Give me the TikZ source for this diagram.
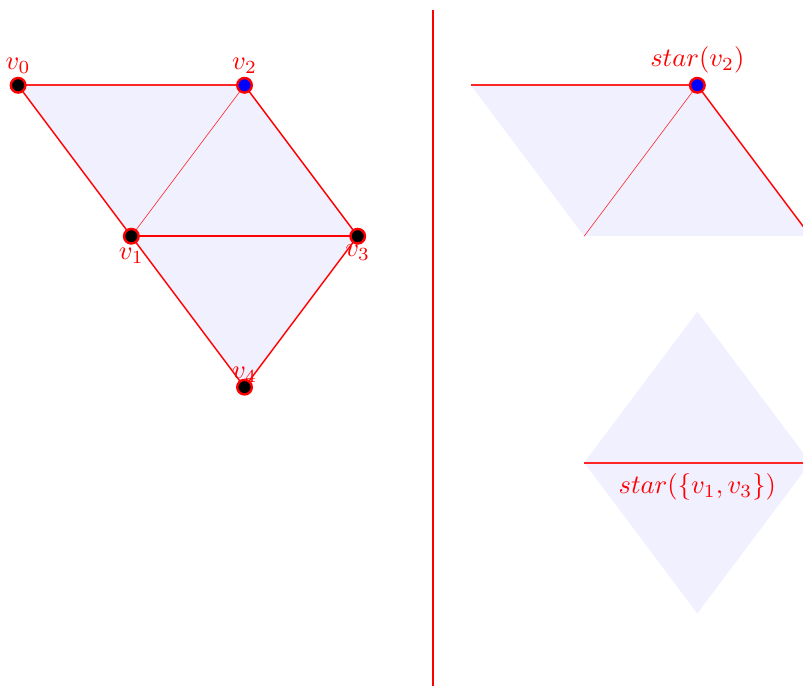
\documentclass[tikz,border=0pt]{standalone}
\usepackage{xcolor}
\usepackage{amsmath}
\usepackage{tikz}
\usetikzlibrary{positioning}

\begin{document}
\begin{tikzpicture}[
  vert/.style={circle, draw=red, line width=0.9pt, fill=black, inner sep=0pt, minimum size=5.5pt},
  lbl/.style={text=red, inner sep=1pt},
  edge/.style={red, line width=0.55pt},
  thinedge/.style={red!80, line width=0.25pt},
  face/.style={fill=blue!6}
]
\clip (-0.24,-3.95) rectangle (10.40,5.13);
% complex K
\coordinate (p0) at (0,4);
\coordinate (p1) at (1.5,2);
\coordinate (p2) at (3,4);
\coordinate (p3) at (4.5,2);
\coordinate (p4) at (3,0);
\fill[face] (p0) -- (p2) -- (p3) -- (p4) -- (p1) -- cycle;
\draw[edge, red!85, line width=0.7pt] (p0) -- (p2);
\draw[edge] (p0) -- (p1);
\draw[thinedge] (p1) -- (p2);
\draw[edge] (p2) -- (p3);
\draw[edge] (p1) -- (p3);
\draw[edge] (p1) -- (p4);
\draw[edge] (p3) -- (p4);
\node[vert] (v0) at (p0) {};
\node[vert] (v1) at (p1) {};
\node[vert, fill=blue] (v2) at (p2) {};
\node[vert] (v3) at (p3) {};
\node[vert] (v4) at (p4) {};
\node[lbl, above=0pt of v0] (l0) {$v_0$};
\node[lbl, below=0pt of v1] (l1) {$v_1$};
\node[lbl, above=0pt of v2] (l2) {$v_2$};
\node[lbl, below=-1pt of v3] (l3) {$v_3$};
\node[lbl, above=-2.5pt of v4] (l4) {$v_4$};

% divider
\coordinate (top) at (5.5,5);
\coordinate (bot) at (5.5,-4);
\draw[red, line width=0.6pt] (top) -- (bot);

% star of v2
\coordinate (q0) at (6,4);
\coordinate (q1) at (7.5,2);
\coordinate (q2) at (9,4);
\coordinate (q3) at (10.5,2);
\fill[face] (q0) -- (q2) -- (q3) -- (q1) -- cycle;
\draw[edge, red!85, line width=0.7pt] (q0) -- (q2);
\draw[thinedge] (q1) -- (q2);
\draw[edge] (q2) -- (q3);
\node[vert, fill=blue] (w2) at (q2) {};
\node[lbl, above=0pt of w2] (s2) {$star(v_2)$};

% star of the edge v1 v3
\coordinate (r1) at (7.5,-1);
\coordinate (r2) at (9,1);
\coordinate (r3) at (10.5,-1);
\coordinate (r4) at (9,-3);
\fill[face] (r1) -- (r2) -- (r3) -- (r4) -- cycle;
\draw[edge, red!85, line width=0.7pt] (r1) -- (r3);
\node[lbl, below=3pt] (s13) at (9,-1) {$star(\{v_1,v_3\})$};
\end{tikzpicture}
\end{document}
